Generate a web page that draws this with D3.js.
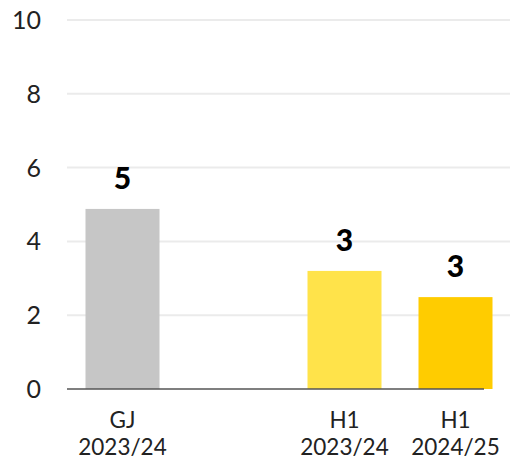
<!DOCTYPE html>
<html><head><meta charset="utf-8">
<script src="https://cdn.jsdelivr.net/npm/d3@7"></script>
<style>body{margin:0;background:#fff}svg{display:block}</style>
</head><body>
<script>
const categories = ["GJ\n2023/24", "", "H1\n2023/24", "H1\n2024/25"];
const values = [4.88, null, 3.2, 2.49];
const valueLabels = ["5", "", "3", "3"];
const barColors = ["#c6c6c6", null, "#ffe34a", "#ffcc00"];
const yTicks = [0, 2, 4, 6, 8, 10];

const W = 510, H = 462;
const svg = d3.select("body").append("svg").attr("width", W).attr("height", H);
const font = "Lato, 'Noto Sans', sans-serif";

const x = d3.scaleBand().domain(d3.range(categories.length)).range([67, 511])
  .paddingInner(1/3).paddingOuter(1/6);
const y = d3.scaleLinear().domain([0, 10]).range([389, 20]);

// gridlines
svg.append("g").selectAll("line").data(yTicks.filter(d => d > 0)).join("line")
  .attr("x1", 67).attr("x2", 510).attr("y1", d => y(d)).attr("y2", d => y(d))
  .attr("stroke", "#ebebeb").attr("stroke-width", 2);

// y labels
svg.append("g").selectAll("text").data(yTicks).join("text")
  .attr("x", 41).attr("y", d => y(d)).attr("dy", "0.36em")
  .attr("text-anchor", "end").attr("font-family", font).attr("font-size", 25)
  .attr("fill", "#222").text(d => d);

// bars
const idx = d3.range(categories.length).filter(i => values[i] != null);
svg.append("g").selectAll("rect").data(idx).join("rect")
  .attr("x", i => x(i)).attr("width", x.bandwidth())
  .attr("y", i => y(values[i])).attr("height", i => y(0) - y(values[i]))
  .attr("fill", i => barColors[i]);

// value labels
svg.append("g").selectAll("text").data(idx).join("text")
  .attr("x", i => x(i) + x.bandwidth() / 2).attr("y", i => y(values[i]) - 20)
  .attr("text-anchor", "middle").attr("font-family", font).attr("font-weight", 900)
  .attr("font-size", 30).attr("fill", "#000").text(i => valueLabels[i]);

// axis line
svg.append("line").attr("x1", 67).attr("x2", 484).attr("y1", y(0)).attr("y2", y(0))
  .attr("stroke", "#555").attr("stroke-width", 1.5);

// x labels
const xl = svg.append("g").selectAll("text").data(idx).join("text")
  .attr("text-anchor", "middle").attr("font-family", font).attr("font-size", 22.5)
  .attr("fill", "#222");
xl.each(function(i) {
  const lines = categories[i].split("\n");
  const t = d3.select(this);
  lines.forEach((l, k) => {
    t.append("tspan").attr("x", x(i) + x.bandwidth() / 2).attr("y", 428 + k * 27).text(l);
  });
});
</script>
</body></html>
